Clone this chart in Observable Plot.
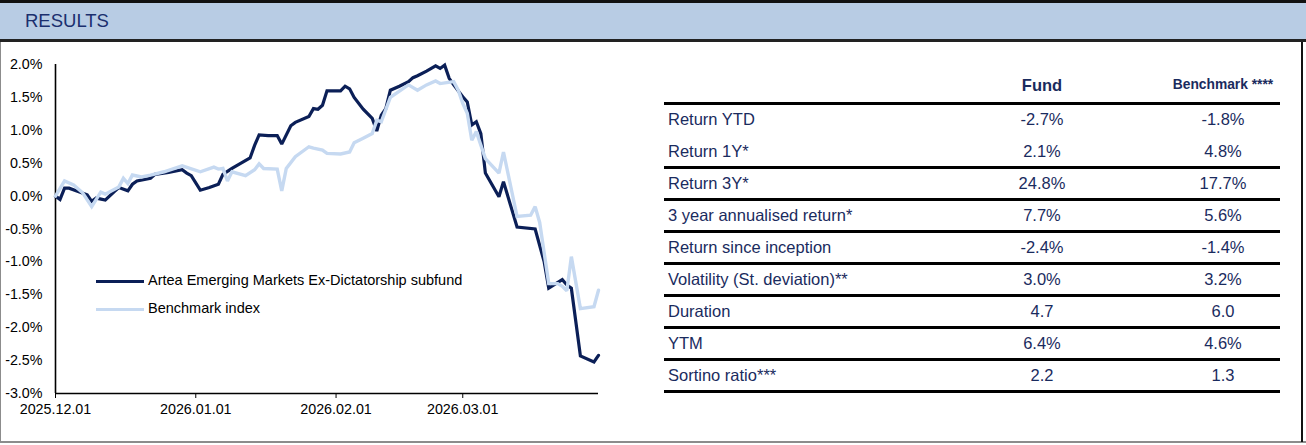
<!DOCTYPE html>
<html>
<head>
<meta charset="utf-8">
<script src="https://cdn.jsdelivr.net/npm/d3@7"></script>
<script src="https://cdn.jsdelivr.net/npm/@observablehq/plot@0.6"></script>
<style>
  html, body { margin: 0; padding: 0; background: #fff; }
  body { width: 1306px; height: 445px; position: relative; overflow: hidden;
         font-family: "Liberation Sans", Arial, sans-serif; }
  .abs { position: absolute; }
  #header { left: 0; top: 0; width: 1306px; height: 36px; background: #b8cce4;
            border-top: 3px solid #111; border-bottom: 3px solid #222; }
  #header span { position: absolute; left: 25px; top: 0; line-height: 36px; font-size: 18.5px; color: #1b2f6e; }
  .lbl { left: 668px; height: 32px; line-height: 32px; font-size: 16.5px; color: #1a2b5e; white-space: nowrap; }
  .val { width: 200px; height: 32px; line-height: 32px; font-size: 16.5px; color: #1a2b5e; text-align: center; }
  .hline { left: 664px; width: 616px; height: 3px; background: #000; }
  .leg { font-size: 14.5px; color: #000; white-space: nowrap; line-height: 16px; }
</style>
</head>
<body>
<div id="header" class="abs"><span>RESULTS</span></div>
<div class="abs" style="left:0;top:42px;width:1px;height:400px;background:#8c8c8c"></div>
<div class="abs" style="left:0;top:441px;width:1306px;height:2px;background:#8c8c8c"></div>
<div class="abs" style="left:1301px;top:42px;width:2px;height:400px;background:#111"></div>
<div id="chart" class="abs" style="left:0;top:42px"></div>
<div id="legend"></div>
<div id="table"></div>
<script>
// ---- chart data ----
const fundDates = ["2025-12-01","2025-12-02","2025-12-03","2025-12-04","2025-12-06","2025-12-08","2025-12-09","2025-12-10","2025-12-12","2025-12-14","2025-12-15","2025-12-17","2025-12-18","2025-12-19","2025-12-22","2025-12-23","2025-12-26","2025-12-29","2025-12-30","2025-12-31",
"2026-01-02","2026-01-04","2026-01-06","2026-01-07","2026-01-09","2026-01-11","2026-01-13","2026-01-14","2026-01-15","2026-01-17","2026-01-19","2026-01-20","2026-01-22","2026-01-23","2026-01-26","2026-01-27","2026-01-28","2026-01-29","2026-01-30",
"2026-02-02","2026-02-03","2026-02-04","2026-02-05","2026-02-07","2026-02-09","2026-02-10","2026-02-11","2026-02-12","2026-02-13","2026-02-15","2026-02-17","2026-02-18","2026-02-19","2026-02-21","2026-02-23","2026-02-24","2026-02-25","2026-02-26","2026-02-27",
"2026-03-01","2026-03-02","2026-03-03","2026-03-04","2026-03-05","2026-03-06","2026-03-09","2026-03-10","2026-03-13","2026-03-17","2026-03-19","2026-03-20","2026-03-23","2026-03-24","2026-03-25","2026-03-27","2026-03-30","2026-03-31"];
const fundValues = [0.00,-0.05,0.12,0.12,0.07,0.02,-0.08,-0.03,-0.06,0.07,0.13,0.08,0.18,0.23,0.27,0.33,0.36,0.40,0.35,0.31,
0.09,0.13,0.18,0.33,0.42,0.50,0.58,0.77,0.93,0.92,0.92,0.79,1.07,1.12,1.21,1.33,1.32,1.38,1.60,
1.60,1.67,1.63,1.50,1.32,1.18,0.99,1.23,1.33,1.61,1.67,1.74,1.80,1.83,1.90,1.98,1.94,1.99,1.79,1.69,
1.51,1.43,1.08,1.13,0.95,0.35,-0.01,0.22,-0.47,-0.50,-1.00,-1.40,-1.27,-1.35,-1.40,-2.43,-2.52,-2.42];

const benchDates = ["2025-12-01","2025-12-03","2025-12-05","2025-12-07","2025-12-09","2025-12-11","2025-12-12","2025-12-15","2025-12-16","2025-12-17","2025-12-18","2025-12-20","2025-12-22","2025-12-25","2025-12-29",
"2026-01-02","2026-01-05","2026-01-06","2026-01-07","2026-01-08","2026-01-09","2026-01-12","2026-01-14","2026-01-15","2026-01-16","2026-01-19","2026-01-20","2026-01-21","2026-01-23","2026-01-26","2026-01-27","2026-01-29","2026-01-30",
"2026-02-02","2026-02-04","2026-02-05","2026-02-07","2026-02-09","2026-02-10","2026-02-11","2026-02-13","2026-02-17","2026-02-19","2026-02-21","2026-02-23","2026-02-24","2026-02-27","2026-02-28",
"2026-03-01","2026-03-02","2026-03-03","2026-03-04","2026-03-06","2026-03-09","2026-03-10","2026-03-13","2026-03-16","2026-03-17","2026-03-18","2026-03-20","2026-03-22","2026-03-23","2026-03-24","2026-03-25","2026-03-27","2026-03-30","2026-03-31"];
const benchValues = [0.00,0.23,0.17,0.05,-0.16,0.06,0.03,0.14,0.27,0.19,0.32,0.29,0.32,0.37,0.46,
0.37,0.44,0.41,0.42,0.23,0.37,0.31,0.40,0.49,0.42,0.41,0.08,0.42,0.60,0.75,0.73,0.70,0.65,
0.64,0.67,0.81,0.88,0.95,1.15,1.13,1.50,1.69,1.61,1.69,1.75,1.71,1.74,1.61,
1.41,1.26,0.85,0.98,0.57,0.35,0.67,-0.31,-0.29,-0.16,-0.40,-1.33,-1.33,-1.37,-1.44,-0.92,-1.71,-1.68,-1.43];

const xDomain = ["2025-12-01","2026-03-31"];
const xTickLabels = ["2025-12-01","2026-01-01","2026-02-01","2026-03-01"];
const yTicks = [-3.0,-2.5,-2.0,-1.5,-1.0,-0.5,0.0,0.5,1.0,1.5,2.0];

const seriesNames = ["Artea Emerging Markets Ex-Dictatorship subfund","Benchmark index"];
const seriesColors = ["#0b1f57","#c6d9f1"];

// ---- table data ----
const tableHeaders = ["Fund","Benchmark ****"];
const rowLabels = ["Return YTD","Return 1Y*","Return 3Y*","3 year annualised return*","Return since inception","Volatility (St. deviation)**","Duration","YTM","Sortino ratio***"];
const fundStats = ["-2.7%","2.1%","24.8%","7.7%","-2.4%","3.0%","4.7","6.4%","2.2"];
const benchStats = ["-1.8%","4.8%","17.7%","5.6%","-1.4%","3.2%","6.0","4.6%","1.3"];

const parse = d3.utcParse("%Y-%m-%d");
const fund = fundDates.map((d, i) => ({date: parse(d), value: fundValues[i]}));
const bench = benchDates.map((d, i) => ({date: parse(d), value: benchValues[i]}));

const plot = Plot.plot({
  width: 620, height: 398,
  marginLeft: 55, marginRight: 22, marginTop: 22, marginBottom: 47,
  style: {fontFamily: "'Liberation Sans', Arial, sans-serif", fontSize: "14.3px", color: "#000", background: "transparent", overflow: "visible"},
  x: {type: "utc", domain: xDomain.map(parse), ticks: xTickLabels.map(parse), tickFormat: d3.utcFormat("%Y.%m.%d"), tickSize: 5, tickPadding: 5, label: null},
  y: {domain: [-3, 2], ticks: yTicks, tickFormat: v => v.toFixed(1) + "%", tickSize: 0, tickPadding: 13, label: null},
  marks: [
    Plot.ruleY([-3], {stroke: "#000", strokeWidth: 1.6}),
    Plot.ruleX([parse(xDomain[0])], {stroke: "#000", strokeWidth: 1.6}),
    Plot.line(fund, {x: "date", y: "value", stroke: seriesColors[0], strokeWidth: 3.2, strokeLinejoin: "miter", strokeMiterlimit: 2}),
    Plot.line(bench, {x: "date", y: "value", stroke: seriesColors[1], strokeWidth: 3.4, strokeLinejoin: "miter", strokeMiterlimit: 2})
  ]
});
document.getElementById("chart").appendChild(plot);

// ---- legend ----
const legend = document.getElementById("legend");
seriesNames.forEach((name, i) => {
  const top = 281 + i * 28;
  const ln = document.createElement("div");
  ln.className = "abs";
  ln.style.cssText = `left:96px;top:${top - 1.5}px;width:48px;height:3px;background:${seriesColors[i]}`;
  legend.appendChild(ln);
  const tx = document.createElement("div");
  tx.className = "abs leg";
  tx.style.cssText = `left:148px;top:${top - 9}px`;
  tx.textContent = name;
  legend.appendChild(tx);
});

// ---- table ----
const table = document.getElementById("table");
const colCenters = [1042, 1223];
const hdrSizes = ["16.5px", "13.8px"];
tableHeaders.forEach((h, i) => {
  const d = document.createElement("div");
  d.className = "abs val";
  d.style.cssText = `left:${colCenters[i] - 100}px;top:${69}px;font-weight:bold;font-size:${hdrSizes[i]}`;
  d.textContent = h;
  table.appendChild(d);
});
const top0 = 103, rowH = 32;
rowLabels.forEach((lab, k) => {
  const y = top0 + k * rowH;
  const l = document.createElement("div");
  l.className = "abs lbl"; l.style.top = y + "px"; l.textContent = lab; table.appendChild(l);
  [fundStats[k], benchStats[k]].forEach((v, i) => {
    const d = document.createElement("div");
    d.className = "abs val";
    d.style.left = (colCenters[i] - 100) + "px"; d.style.top = y + "px";
    d.textContent = v; table.appendChild(d);
  });
});
for (let k = 0; k <= rowLabels.length; k++) {
  if (k === 1) continue;
  const d = document.createElement("div");
  d.className = "abs hline";
  d.style.top = (top0 + k * rowH - 1.5) + "px";
  table.appendChild(d);
}
</script>
</body>
</html>
